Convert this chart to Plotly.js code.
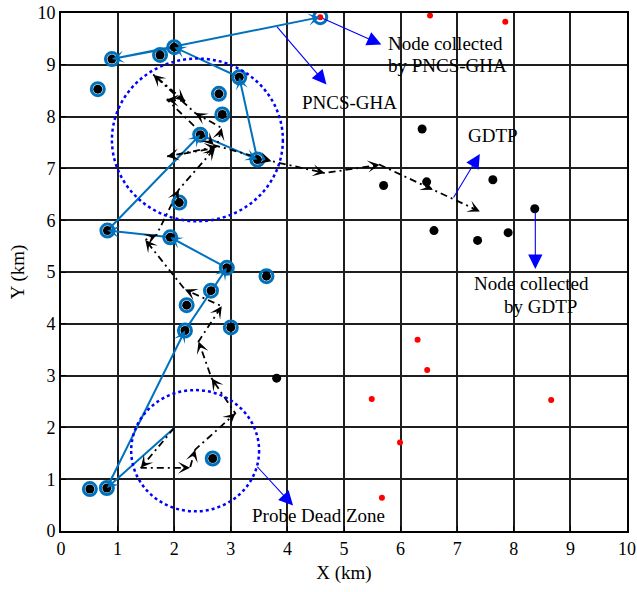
<!DOCTYPE html>
<html><head><meta charset="utf-8">
<script src="https://cdn.plot.ly/plotly-3.0.1.min.js"></script>
<style>html,body{margin:0;padding:0;background:#fff}#chart{width:637px;height:592px}</style>
</head><body><div id="chart"></div>
<script>
// ---- tick labels ----
const tickVals = [0,1,2,3,4,5,6,7,8,9,10];
const tickLabels = ['0','1','2','3','4','5','6','7','8','9','10'];

// ---- nodes collected by GDTP (black dots) ----
const gdtpNodeX = [2.00,1.75,0.90,0.65,3.15,2.79,2.85,2.46,3.47,2.09,0.82,1.93,2.93,3.63,2.65,2.22,2.19,3.00,2.68,0.51,0.81,
                   3.81,6.38,5.70,6.46,7.63,8.37,6.59,7.36,7.90];
const gdtpNodeY = [9.34,9.19,9.11,8.53,8.76,8.44,8.04,7.65,7.17,6.34,5.80,5.67,5.08,4.92,4.64,4.36,3.87,3.93,1.40,0.81,0.83,
                   2.95,7.76,6.67,6.74,6.78,6.22,5.80,5.61,5.76];

// ---- nodes not collected by GDTP (red dots) ----
const missedNodeX = [4.58,6.52,7.85,6.30,6.47,5.49,8.66,5.99,5.67];
const missedNodeY = [9.92,9.95,9.83,3.69,3.11,2.55,2.53,1.71,0.64];

// ---- nodes collected by PNCS-GHA (blue rings) ----
const pncsNodeX = [2.00,1.75,0.90,0.65,3.15,2.79,2.85,2.46,3.47,2.09,0.82,1.93,2.93,3.63,2.65,2.22,2.19,3.00,2.68,0.51,0.81,4.58];
const pncsNodeY = [9.34,9.19,9.11,8.53,8.76,8.44,8.04,7.65,7.17,6.34,5.80,5.67,5.08,4.92,4.64,4.36,3.87,3.93,1.40,0.81,0.83,9.92];

// ---- PNCS-GHA trajectory ----
const pncsPathX = [2.00,0.81,2.19,2.93,1.93,0.82,2.46,3.47,3.15,2.00,0.90,4.58];
const pncsPathY = [1.99,0.83,3.87,5.08,5.67,5.80,7.65,7.17,8.76,9.34,9.11,9.92];

// ---- GDTP trajectory ----
const gdtpPathX = [2.00,1.41,2.28,2.37,3.08,2.66,2.43,2.84,2.19,1.49,1.69,2.08,2.72,1.87,2.75,2.84,2.37,1.63,2.19,1.87,2.70,3.72,4.66,5.63,6.57,7.40];
const gdtpPathY = [1.99,1.22,1.22,1.57,2.27,2.95,3.66,4.34,4.66,5.62,5.72,6.59,7.39,7.23,7.42,7.78,8.07,8.81,8.30,8.33,7.45,7.14,6.91,7.07,6.59,6.17];

// ---- dotted zones (centre, radii in km) ----
const zoneCx = [2.41, 2.37];
const zoneCy = [7.55, 1.55];
const zoneRx = [1.51, 1.13];
const zoneRy = [1.57, 1.17];

const W = 637, H = 592;
const M = {l: 61, r: 10, t: 13, b: 61, pad: 0};
const sx = (W - M.l - M.r) / 10, sy = (H - M.t - M.b) / 10;
const FONT = '"Liberation Serif", "Times New Roman", serif';
const PBLUE = '#0072BD';

function pathArrows(xs, ys, color) {
  const out = [];
  for (let i = 1; i < xs.length; i++) {
    const dx = (xs[i] - xs[i-1]) * sx, dy = (ys[i] - ys[i-1]) * sy;
    const L = Math.hypot(dx, dy);
    if (!L) continue;
    const k = 5 / L;
    out.push({x: xs[i], y: ys[i], xref: 'x', yref: 'y', ax: -dx * k, ay: dy * k,
      text: '', showarrow: true, arrowhead: 3, arrowsize: 1.35, arrowwidth: 1.5,
      arrowcolor: color, standoff: 0, font: {size: 1}, borderpad: 0});
  }
  return out;
}

function callout(x0, y0, x1, y1) {
  return {x: x1, y: y1, ax: x0, ay: y0, xref: 'x', yref: 'y', axref: 'x', ayref: 'y',
    text: '', showarrow: true, arrowhead: 2, arrowsize: 2.6, arrowwidth: 1.1,
    arrowcolor: '#0000FF', standoff: 0, font: {size: 1}, borderpad: 0};
}
function label(x, y, t, xanchor) {
  return {x: x, y: y, xref: 'x', yref: 'y', text: t, showarrow: false,
    xanchor: xanchor || 'center', yanchor: 'middle',
    font: {family: FONT, size: 19, color: '#000'}};
}

const traces = [
  {x: pncsPathX, y: pncsPathY, mode: 'lines', line: {color: PBLUE, width: 2}, hoverinfo: 'skip'},
  {x: gdtpPathX, y: gdtpPathY, mode: 'lines', line: {color: '#000', width: 1.8, dash: '7px,4px,2px,4px'}, hoverinfo: 'skip'},
  {x: pncsNodeX, y: pncsNodeY, mode: 'markers', marker: {symbol: 'circle-open', size: 13, color: PBLUE, line: {width: 3, color: PBLUE}}},
  {x: gdtpNodeX, y: gdtpNodeY, mode: 'markers', marker: {symbol: 'circle', size: 9, color: '#000'}},
  {x: missedNodeX, y: missedNodeY, mode: 'markers', marker: {symbol: 'circle', size: 6, color: '#FF0000'}}
];

const shapes = zoneCx.map((cx, i) => ({
  type: 'circle', xref: 'x', yref: 'y',
  x0: cx - zoneRx[i], x1: cx + zoneRx[i], y0: zoneCy[i] - zoneRy[i], y1: zoneCy[i] + zoneRy[i],
  line: {color: '#0000FF', width: 2.5, dash: 'dot'}, fillcolor: 'rgba(0,0,0,0)'
}));

const annotations = [].concat(
  pathArrows(pncsPathX, pncsPathY, PBLUE),
  pathArrows(gdtpPathX, gdtpPathY, '#000'),
  [
    callout(4.62, 9.90, 5.66, 9.39),
    callout(3.81, 9.74, 4.69, 8.62),
    callout(6.93, 6.43, 7.40, 7.28),
    callout(8.38, 6.18, 8.38, 5.06),
    callout(3.46, 1.25, 4.10, 0.49),
    label(5.74, 9.42, 'Node collected', 'left'),
    label(5.74, 8.98, 'by PNCS-GHA', 'left'),
    label(5.10, 8.27, 'PNCS-GHA'),
    label(7.63, 7.63, 'GDTP'),
    label(8.32, 4.78, 'Node collected'),
    label(8.47, 4.34, 'by GDTP'),
    label(4.55, 0.30, 'Probe Dead Zone')
  ]
);

const axisBase = {
  range: [0, 10], tickmode: 'array', tickvals: tickVals, ticktext: tickLabels,
  showgrid: true, gridcolor: '#1e1e1e', gridwidth: 2, zeroline: false,
  showline: true, mirror: true, linecolor: '#000', linewidth: 2,
  ticks: 'inside', ticklen: 5, tickcolor: '#000', tickwidth: 1,
  tickfont: {family: FONT, size: 18, color: '#000'}, fixedrange: true
};

const layout = {
  width: W, height: H, margin: M, showlegend: false,
  paper_bgcolor: '#fff', plot_bgcolor: '#fff',
  font: {family: FONT, color: '#000'},
  xaxis: Object.assign({}, axisBase, {title: {text: 'X (km)', font: {family: FONT, size: 19, color: '#000'}, standoff: 8}}),
  yaxis: Object.assign({}, axisBase, {title: {text: 'Y (km)', font: {family: FONT, size: 19, color: '#000'}, standoff: 8}}),
  shapes: shapes, annotations: annotations
};

Plotly.newPlot('chart', traces, layout, {displayModeBar: false});
</script>
</body></html>
